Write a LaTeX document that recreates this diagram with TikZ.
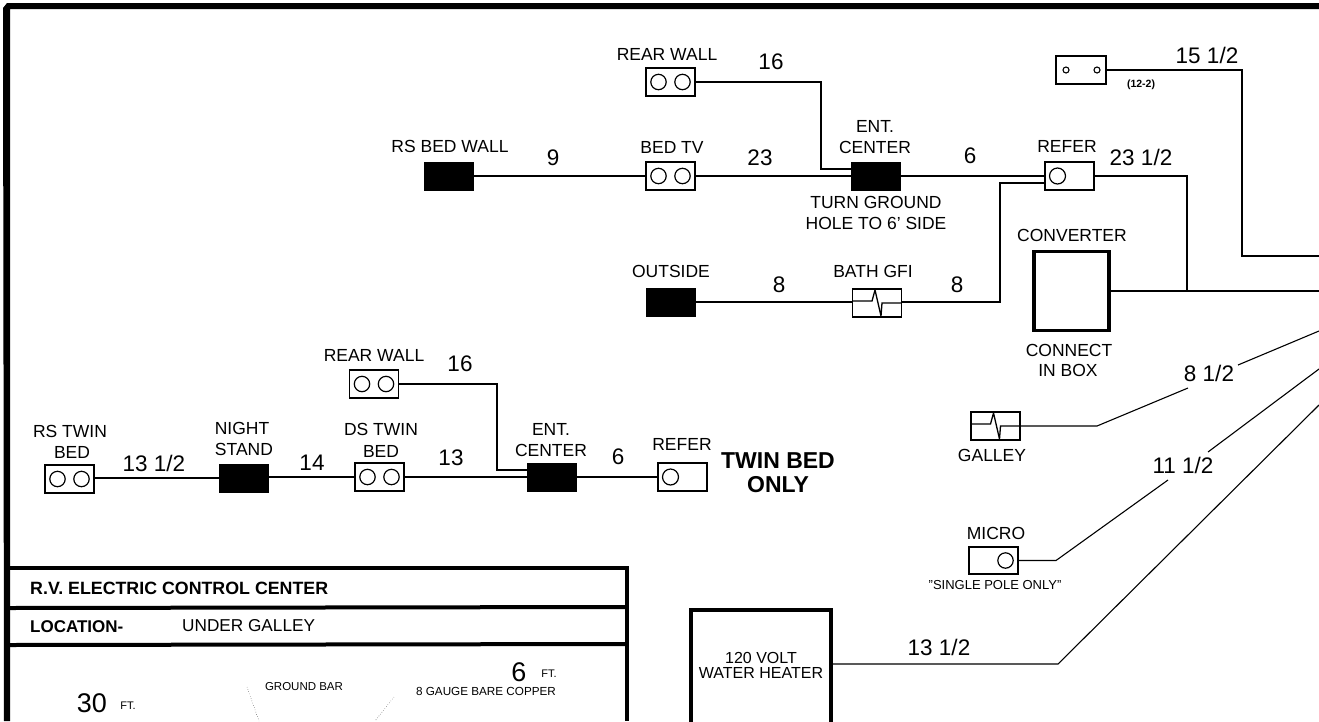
\documentclass[tikz,border=0pt]{standalone}
\usepackage{fontspec}
\setmainfont{Liberation Sans}
\usetikzlibrary{calc}
\newcommand{\fsz}[1]{\fontsize{#1}{#1}\selectfont}
\tikzset{
  x=1pt,y=-1pt,
  wire/.style={line width=1.1pt,line join=miter},
  plugbox/.style={draw,line width=1.2pt,fill=white,inner sep=0,outer sep=0,minimum width=49pt,minimum height=28pt},
  blackbox/.style={fill=black,draw=black,inner sep=0,outer sep=0,minimum width=49pt,minimum height=28pt},
  duplex/.style={plugbox,path picture={\draw[line width=1.2pt] ($(path picture bounding box.center)+(-12,0)$) circle (7.7) ($(path picture bounding box.center)+(12,0)$) circle (7.7);}},
  single/.style={plugbox,path picture={\draw[line width=1.2pt] ($(path picture bounding box.center)+(-12,0)$) circle (8);}},
  gfi/.style={plugbox,path picture={\draw[line width=1.3pt] ($(path picture bounding box.center)+(-25,-2)$) -- ++(20,0) -- ++(3,-11) -- ++(6,26) -- ++(1,-13) -- ++(20,0);}},
  lbl/.style={inner sep=0,font=\fsz{17.5},align=center,text depth=0pt},
  num/.style={inner sep=0,font=\fsz{22.5}},
  heavy/.style={line width=4.5pt},
}
\begin{document}
\begin{tikzpicture}
\useasboundingbox (0,0) rectangle (1319,721);
\clip (0,0) rectangle (1319,721);
\fill[white] (0,0) rectangle (1319,721);
% outer frame
\fill[black] (4,721) -- (3,8) -- (7,3) -- (1319,3) -- (1319,9) -- (10,9) -- (10,721) -- cycle;
% upper run
\node[blackbox] (rsbed) at (449,176) {};
\node[duplex] (bedtv) at (670.5,176) {};
\node[duplex] (rear1) at (670.5,82) {};
\node[blackbox] (ent1) at (875.5,176) {};
\node[single] (refer1) at (1069.5,176) {};
\node[blackbox] (outside) at (670.5,302) {};
\node[gfi] (bath) at (877,303) {};
\node[plugbox,minimum height=28pt,minimum width=50pt,path picture={\draw[line width=1.1pt] ($(path picture bounding box.center)+(-15,0)$) circle (3) ($(path picture bounding box.center)+(16,0)$) circle (3);}] (top) at (1081,70) {};
\node[draw,line width=3.5pt,inner sep=0,outer sep=0,minimum width=75pt,minimum height=79pt] (conv) at (1071.5,291) {};
\node[gfi] (galley) at (995.5,426) {};
\node[plugbox,minimum width=49pt,minimum height=27pt,path picture={\draw[line width=1.2pt] ($(path picture bounding box.center)+(12,0)$) circle (7.7);}] (micro) at (993.5,560.5) {};
\node[draw,line width=3.5pt,inner sep=0,outer sep=0,minimum width=140pt,minimum height=130pt] (heater) at (761,675) {};
% lower run
\node[duplex] (rstwin) at (69.5,479) {};
\node[blackbox] (night) at (244,478) {};
\node[duplex] (dstwin) at (379.5,477) {};
\node[duplex] (rear2) at (374,384) {};
\node[blackbox] (ent2) at (551.5,477) {};
\node[single] (refer2) at (682.5,477) {};
% free coordinates
\coordinate (b1) at (821,82);
\coordinate (b1e) at (821,169);
\coordinate (b2) at (1000,183);
\coordinate (b3) at (1187,176);
\coordinate (j1) at (1187,291);
\coordinate (e1) at (1319,291);
\coordinate (b4) at (1242,70);
\coordinate (b5) at (1242,256);
\coordinate (e2) at (1319,256);
\coordinate (g1) at (1097,426);
\coordinate (g2) at (1188,388);
\coordinate (g3) at (1238,365);
\coordinate (e3) at (1319,331);
\coordinate (m1) at (1056,560.5);
\coordinate (m2) at (1168,480);
\coordinate (m3) at (1208,452);
\coordinate (e4) at (1319,369);
\coordinate (h1) at (1058,664);
\coordinate (e5) at (1319,405);
\coordinate (b6) at (497,384);
\coordinate (b6e) at (497,470);
% connectors
\draw[wire] (rsbed.east) -- (bedtv.west);
\draw[wire] (bedtv.east) -- (ent1.west);
\draw[wire] (rear1.east) -- (b1) -- (b1e) -- (b1e -| ent1.west);
\draw[wire] (ent1.east) -- (refer1.west);
\draw[wire] (refer1.east) -- (b3) -- (j1);
\draw[wire] (conv.east |- j1) -- (e1);
\draw[wire] (outside.east) -- (outside.east -| bath.west);
\draw[wire] (bath.east |- outside.east) -- (b2 |- outside.east) -- (b2) -- (b2 -| refer1.west);
\draw[wire] (top.east) -- (b4) -- (b5) -- (e2);
\draw[wire] (galley.east) -- (g1) -- (g2);
\draw[wire] (g3) -- (e3);
\draw[wire] (micro.east) -- (m1) -- (m2);
\draw[wire] (m3) -- (e4);
\draw[wire] (heater.east |- h1) -- (h1) -- (e5);
\draw[wire] (rstwin.east |- night.west) -- (night.west);
\draw[wire] (night.east |- dstwin.west) -- (dstwin.west);
\draw[wire] (dstwin.east) -- (ent2.west);
\draw[wire] (rear2.east) -- (b6) -- (b6e) -- (b6e -| ent2.west);
\draw[wire] (ent2.east) -- (refer2.west);
% upper labels
\node[lbl] (t1) at (667,54) {REAR WALL};
\node[num] (t2) at (771,62) {16};
\node[lbl] (t3) at (450,146) {RS BED WALL};
\node[num] (t4) at (553,158) {9};
\node[lbl] (t5) at (672,147) {BED TV};
\node[num] (t6) at (760,158) {23};
\node[lbl] (t7) at (875,126) {ENT.};
\node[lbl] (t8) at (875,147) {CENTER};
\node[num] (t9) at (970,156) {6};
\node[lbl] (t10) at (1067,146) {REFER};
\node[num] (t11) at (1141,157) {23 1/2};
\node[lbl] (t12) at (876,202) {TURN GROUND};
\node[lbl] (t13) at (876,223) {HOLE TO 6' SIDE};
\node[lbl] (t14) at (1072,235) {CONVERTER};
\node[lbl] (t15) at (671,271) {OUTSIDE};
\node[num] (t16) at (779,285) {8};
\node[lbl] (t17) at (873,271) {BATH GFI};
\node[num] (t18) at (957,285) {8};
\node[lbl] (t19) at (1069,350) {CONNECT};
\node[lbl] (t20) at (1068,370) {IN BOX};
\node[num] (t21) at (1207,55) {15 1/2};
\node[inner sep=0,font=\bfseries\fsz{10.5}] (t22) at (1141,85) {(12-2)};
\node[num] (t23) at (1209,373) {8 1/2};
\node[lbl] (t24) at (992,455) {GALLEY};
\node[num] (t25) at (1183,465) {11 1/2};
\node[lbl] (t26) at (996,533) {MICRO};
\node[inner sep=0,font=\fsz{13}] (t27) at (995,585) {"SINGLE POLE ONLY"};
\node[num] (t28) at (939,647) {13 1/2};
\node[inner sep=0,font=\fsz{16},align=center] (t29) at (761,665) {120 VOLT\\[-1pt]WATER HEATER};
% lower labels
\node[lbl] (t30) at (374,355) {REAR WALL};
\node[num] (t31) at (460,364) {16};
\node[lbl] (t32) at (70,431) {RS TWIN};
\node[lbl] (t33) at (72,452) {BED};
\node[num] (t34) at (154,463) {13 1/2};
\node[lbl] (t35) at (242,428) {NIGHT};
\node[lbl] (t36) at (244,449) {STAND};
\node[num] (t37) at (312,463) {14};
\node[lbl] (t38) at (381,429) {DS TWIN};
\node[lbl] (t39) at (381,451) {BED};
\node[num] (t40) at (451,458) {13};
\node[lbl] (t41) at (551,429) {ENT.};
\node[lbl] (t42) at (551,450) {CENTER};
\node[num] (t43) at (618,457) {6};
\node[lbl] (t44) at (682,444) {REFER};
\node[inner sep=0,font=\bfseries\fsz{23},align=center] (t45) at (778,473) {TWIN BED\\[1pt]ONLY};
% control panel
\draw[heavy] (8,568) -- (627,568) -- (627,721);
\draw[line width=4pt] (8,608) -- (627,607);
\draw[line width=4pt] (8,645) -- (627,644);
\node[inner sep=0,anchor=west,font=\bfseries\fsz{17.8}] (p1) at (30,588) {R.V. ELECTRIC CONTROL CENTER};
\node[inner sep=0,anchor=west,font=\bfseries\fsz{17}] (p2) at (30,627) {LOCATION-};
\node[inner sep=0,anchor=west,font=\fsz{17.2}] (p3) at (182,626) {UNDER GALLEY};
\node[inner sep=0,font=\fsz{27}] (p4) at (92,703) {30};
\node[inner sep=0,font=\fsz{11}] (p5) at (128,706) {FT.};
\node[inner sep=0,font=\fsz{27}] (p6) at (519,672) {6};
\node[inner sep=0,font=\fsz{11}] (p7) at (549,674) {FT.};
\node[inner sep=0,font=\fsz{11.5}] (p8) at (304,687) {GROUND BAR};
\node[inner sep=0,font=\fsz{11.7}] (p9) at (486,691) {8 GAUGE BARE COPPER};
\coordinate (l1) at (247,687);
\coordinate (l2) at (259,721);
\coordinate (l3) at (394,697);
\coordinate (l4) at (375,721);
\draw[line width=.4pt,dotted] (l1) -- (l2);
\draw[line width=.4pt,dotted] (l3) -- (l4);
\end{tikzpicture}
\end{document}
